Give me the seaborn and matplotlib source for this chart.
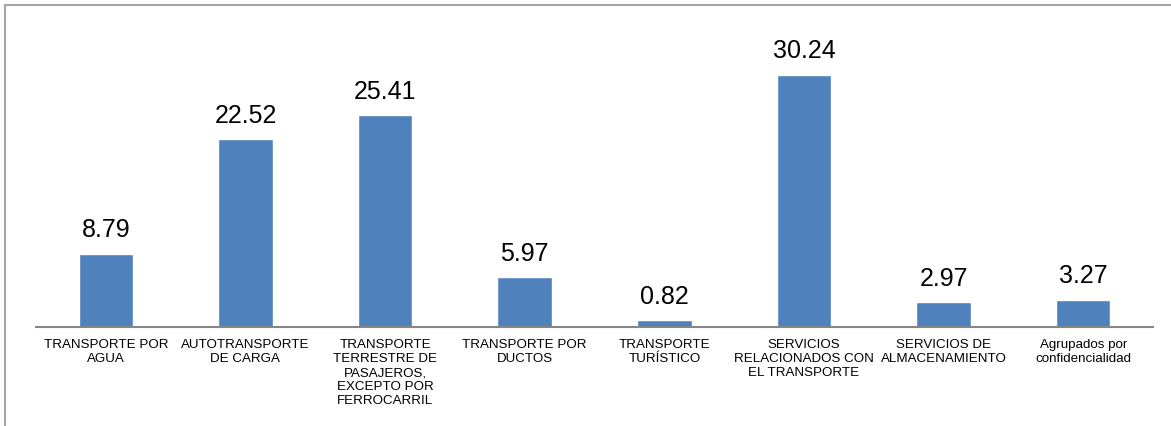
import numpy as np
import pandas as pd
import matplotlib
matplotlib.use("Agg")
import matplotlib.pyplot as plt
import matplotlib.patches as mpatches
import seaborn as sns

# ====================== datos ======================
categorias = [
    "TRANSPORTE POR\nAGUA",
    "AUTOTRANSPORTE\nDE CARGA",
    "TRANSPORTE\nTERRESTRE DE\nPASAJEROS,\nEXCEPTO POR\nFERROCARRIL",
    "TRANSPORTE POR\nDUCTOS",
    "TRANSPORTE\nTURÍSTICO",
    "SERVICIOS\nRELACIONADOS CON\nEL TRANSPORTE",
    "SERVICIOS DE\nALMACENAMIENTO",
    "Agrupados por\nconfidencialidad",
]
valores = [8.79, 22.52, 25.41, 5.97, 0.82, 30.24, 2.97, 3.27]

df = pd.DataFrame({"categoria": categorias, "valor": valores})

# ====================== gráfico ======================
sns.set_style("white")
plt.rcParams['font.family'] = ['Liberation Sans', 'DejaVu Sans']

fig = plt.figure(figsize=(11.71, 4.27), dpi=100)
ax = fig.add_axes([36 / 1171, 1 - 328 / 427, (1153 - 36) / 1171, (328 - 36) / 427])

sns.barplot(data=df, x="categoria", y="valor", color="#4F81BD",
            width=0.39, saturation=1, ax=ax)

for c in ax.containers:
    ax.bar_label(c, labels=[f"{v:.2f}" for v in valores], padding=9,
                 fontsize=18, color="black")

ax.set_ylim(0, 35)
ax.set_xlim(-0.5, len(categorias) - 0.5)
ax.set_xlabel("")
ax.set_ylabel("")
ax.set_yticks([])
ax.tick_params(axis="x", length=0, pad=8, labelsize=9.6, labelcolor="black")
for lbl in ax.get_xticklabels():
    lbl.set_linespacing(1.22)

for s in ["top", "right", "left"]:
    ax.spines[s].set_visible(False)
ax.spines["bottom"].set_color("#868686")
ax.spines["bottom"].set_linewidth(1.5)

# marco gris del área del gráfico
marco = mpatches.Rectangle((5 / 1171, -0.1), 1.2, 1.1 - 6 / 427,
                           transform=fig.transFigure, fill=False,
                           edgecolor="#A6A6A6", linewidth=1.5)
fig.patches.append(marco)

fig.savefig("out.png", dpi=100)
